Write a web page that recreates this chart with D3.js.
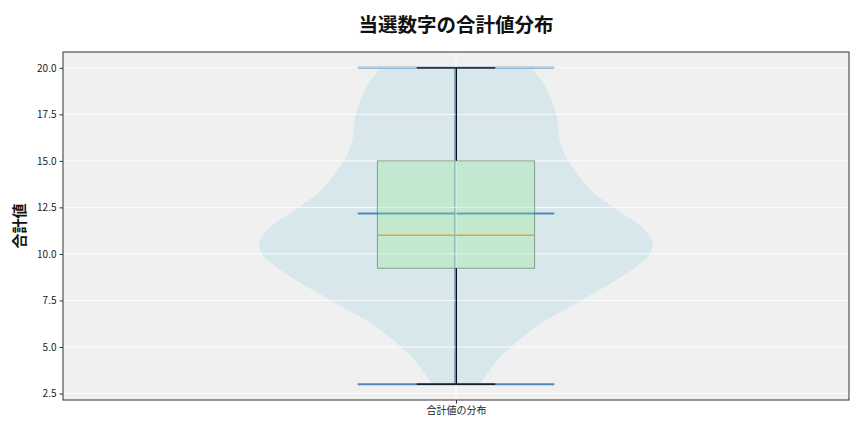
<!DOCTYPE html>
<html><head><meta charset="utf-8">
<script src="https://cdn.jsdelivr.net/npm/d3@7"></script>
<style>body{margin:0;background:#fff;}svg{display:block;font-family:"Noto Sans CJK JP","Noto Sans",sans-serif;}</style>
</head><body>
<svg id="c" width="864" height="432"></svg>
<script>
const title = "当選数字の合計値分布";
const yLabel = "合計値";
const categories = ["合計値の分布"];
const yTicks = [2.5, 5.0, 7.5, 10.0, 12.5, 15.0, 17.5, 20.0];
// box stats
const statMin = [3];
const statQ1 = [9.23];
const statMedian = [11];
const statMean = [12.17];
const statQ3 = [15];
const statMax = [20];
// violin density profile (value, relative half width)
const violinValues = [3.0, 3.57, 4.29, 5.0, 5.73, 6.45, 7.16, 7.88, 8.6, 9.32, 10.04, 10.6, 11.4, 12.5, 13.5, 15.0, 16.0, 17.5, 18.9, 19.5, 20.0];
const violinWidths = [0.12, 0.16, 0.21, 0.28, 0.36, 0.46, 0.58, 0.70, 0.815, 0.92, 0.99, 1.0, 0.95, 0.80, 0.68, 0.57, 0.53, 0.51, 0.46, 0.42, 0.38];

const W = 864, H = 432;
const m = {l: 63, r: 15, t: 52, b: 32};
const svg = d3.select("#c");
const x = d3.scaleLinear().domain([0.5, 1.5]).range([m.l, W - m.r]);
const pad = (20 - 3) * 0.05;
const y = d3.scaleLinear().domain([3 - pad, 20 + pad]).range([H - m.b, m.t]);

svg.append("rect").attr("x", m.l).attr("y", m.t).attr("width", W - m.l - m.r).attr("height", H - m.t - m.b).attr("fill", "#f0f0f0");

const g = svg.append("g");
const pos = 1;
const vw = 0.25;
const vData = violinValues.map((v, i) => ({v, w: violinWidths[i]}));
const area = d3.area()
  .y(d => y(d.v))
  .x0(d => x(pos - vw * d.w))
  .x1(d => x(pos + vw * d.w))
  .curve(d3.curveCatmullRom);
g.append("path").datum(vData).attr("d", area).attr("fill", "#add8e6").attr("fill-opacity", 0.35);

const blue = "#5288b8";
// violin bars
g.append("line").attr("x1", x(pos) - 1).attr("x2", x(pos) - 1).attr("y1", y(statMin[0])).attr("y2", y(statMax[0])).attr("stroke", blue).attr("stroke-width", 1.2);
[statMin[0], statMax[0], statMean[0]].forEach(v => {
  g.append("line").attr("x1", x(pos - 0.125)).attr("x2", x(pos + 0.125)).attr("y1", y(v)).attr("y2", y(v)).attr("stroke", blue).attr("stroke-width", 2);
});

// grid
const grid = svg.append("g").attr("stroke", "#fff").attr("stroke-opacity", 0.85).attr("stroke-width", 1);
yTicks.forEach(t => grid.append("line").attr("x1", m.l).attr("x2", W - m.r).attr("y1", y(t)).attr("y2", y(t)));
grid.append("line").attr("x1", x(pos)).attr("x2", x(pos)).attr("y1", m.t).attr("y2", H - m.b);

const g2 = svg.append("g");
// box
g2.append("rect").attr("x", x(pos - 0.1)).attr("width", x(pos + 0.1) - x(pos - 0.1))
  .attr("y", y(statQ3[0])).attr("height", y(statQ1[0]) - y(statQ3[0]))
  .attr("fill", "#90ee90").attr("fill-opacity", 0.3).attr("stroke", "#5a6a60").attr("stroke-opacity", 0.6).attr("stroke-width", 1);
// median
g2.append("line").attr("x1", x(pos - 0.1) + 0.5).attr("x2", x(pos + 0.1) - 0.5).attr("y1", y(statMedian[0])).attr("y2", y(statMedian[0])).attr("stroke", "#e6a13a").attr("stroke-width", 1.4);
// whiskers
g2.append("line").attr("x1", x(pos) + 0.3).attr("x2", x(pos) + 0.3).attr("y1", y(statQ3[0])).attr("y2", y(statMax[0])).attr("stroke", "#000").attr("stroke-width", 1.3);
g2.append("line").attr("x1", x(pos) + 0.3).attr("x2", x(pos) + 0.3).attr("y1", y(statQ1[0])).attr("y2", y(statMin[0])).attr("stroke", "#000").attr("stroke-width", 1.3);
[statMin[0], statMax[0]].forEach(v => {
  g2.append("line").attr("x1", x(pos - 0.05)).attr("x2", x(pos + 0.05)).attr("y1", y(v)).attr("y2", y(v)).attr("stroke", "#000").attr("stroke-width", 1.3);
});

// frame
svg.append("rect").attr("x", m.l).attr("y", m.t).attr("width", W - m.l - m.r).attr("height", H - m.t - m.b).attr("fill", "none").attr("stroke", "#333").attr("stroke-width", 1);

// axes
const ya = svg.append("g").attr("transform", `translate(${m.l},0)`)
  .call(d3.axisLeft(y).tickValues(yTicks).tickFormat(d3.format(".1f")).tickSize(3.5).tickPadding(3));
ya.select(".domain").remove();
ya.selectAll("text").attr("font-size", 10).attr("fill", "#222");
ya.selectAll("line").attr("stroke", "#333");
const xa = svg.append("g").attr("transform", `translate(0,${H - m.b})`)
  .call(d3.axisBottom(x).tickValues([1]).tickFormat(() => categories[0]).tickSize(3.5).tickPadding(3));
xa.select(".domain").remove();
xa.selectAll("text").attr("font-size", 10).attr("fill", "#222");
xa.selectAll("line").attr("stroke", "#333");
svg.selectAll(".tick text").style("font-family", '"Noto Sans CJK JP","Noto Sans",sans-serif');

svg.append("text").attr("x", x(pos)).attr("y", 32).attr("text-anchor", "middle").attr("font-size", 19.5).attr("font-weight", "bold").attr("fill", "#111").text(title);
svg.append("text").attr("transform", `translate(25,${(m.t + H - m.b) / 2}) rotate(-90)`).attr("text-anchor", "middle").attr("font-size", 15).attr("font-weight", "bold").attr("fill", "#111").text(yLabel);
</script>
</body></html>
